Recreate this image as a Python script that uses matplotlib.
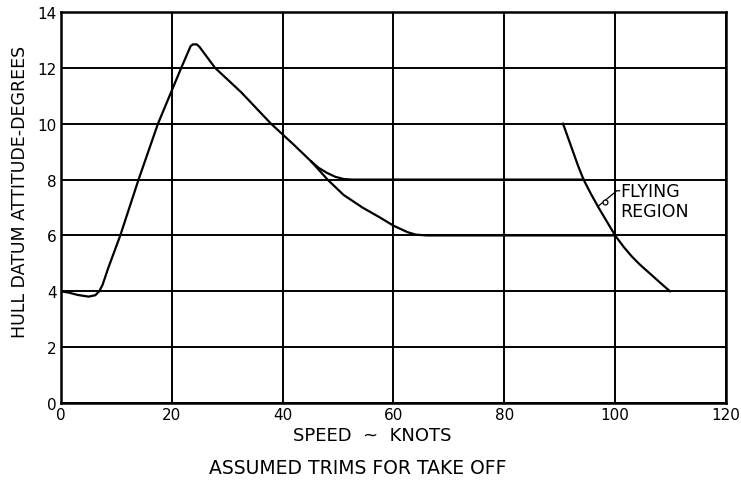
import matplotlib.pyplot as plt

# trim curve (knots, degrees)
main_speed = [0, 1.5, 3.0, 5.0, 6.2, 6.9, 7.5, 8.5, 10.7, 14.0, 17.5, 21.7, 23.4, 23.8, 24.5,
              25.0, 27.8, 32.5, 37.9, 42.0, 45.2]
main_trim = [4.0, 3.95, 3.87, 3.81, 3.86, 4.0, 4.23, 4.82, 6.0, 8.0, 10.0, 12.0, 12.78, 12.84, 12.84,
             12.75, 12.0, 11.13, 10.0, 9.25, 8.64]

upper_speed = [45.2, 46.5, 48.0, 49.5, 51.0, 52.5, 70, 94.3]
upper_trim = [8.64, 8.42, 8.24, 8.1, 8.02, 8.0, 8.0, 8.0]

lower_speed = [45.2, 48.1, 51.0, 54.4, 57.5, 60.0, 62.5, 64.0, 66.0, 80, 100]
lower_trim = [8.64, 8.0, 7.45, 7.0, 6.65, 6.35, 6.12, 6.03, 6.0, 6.0, 6.0]

# flying region boundary
fly_speed = [90.6, 91.5, 92.4, 93.3, 94.3, 95.6, 97.0, 98.5, 100.0, 101.5, 103.0, 104.5,
             106.2, 108.0, 109.9]
fly_trim = [10.0, 9.5, 9.0, 8.5, 8.0, 7.5, 7.0, 6.5, 6.0, 5.6, 5.25, 4.95,
            4.65, 4.33, 4.0]

xticks = [0, 20, 40, 60, 80, 100, 120]
yticks = [0, 2, 4, 6, 8, 10, 12, 14]

plt.rcParams['font.family'] = ['DejaVu Sans']

fig = plt.figure(figsize=(7.41, 4.81), dpi=100)
ax = fig.add_axes([0.0823, 0.160, 0.8974, 0.813])

ax.set_xlim(0, 120)
ax.set_ylim(0, 14)
ax.set_xticks(xticks)
ax.set_yticks(yticks)
ax.set_xticklabels([str(t) for t in xticks], fontsize=11)
ax.set_yticklabels([str(t) for t in yticks], fontsize=11)
ax.tick_params(length=0, pad=3)

ax.grid(True, color='black', linewidth=1.4)
for s in ax.spines.values():
    s.set_linewidth(1.8)

lw = 1.6
ax.plot(main_speed, main_trim, color='black', lw=lw, solid_joinstyle='round')
ax.plot(upper_speed, upper_trim, color='black', lw=lw, solid_joinstyle='round')
ax.plot(lower_speed, lower_trim, color='black', lw=lw, solid_joinstyle='round')
ax.plot(fly_speed, fly_trim, color='black', lw=lw, solid_joinstyle='round')

# leader from the label to the boundary curve
ax.plot([100.8, 100.3, 96.9], [7.6, 7.6, 7.04], color='black', lw=0.9)
ax.plot([98.2], [7.21], marker='o', ms=3.5, mfc='white', mec='black', mew=0.9)
ax.text(101.0, 7.6, 'FLYING', fontsize=12.5, ha='left', va='center')
ax.text(101.0, 6.88, 'REGION', fontsize=12.5, ha='left', va='center')

fig.text(0.502, 0.094, 'SPEED  ~  KNOTS', ha='center', va='center', fontsize=13)
fig.text(0.027, 0.60, 'HULL DATUM ATTITUDE-DEGREES', rotation=90,
         ha='center', va='center', fontsize=12.5)
fig.text(0.483, 0.027, 'ASSUMED TRIMS FOR TAKE OFF', ha='center', va='center', fontsize=13.5)

fig.savefig('out.png', dpi=100)
